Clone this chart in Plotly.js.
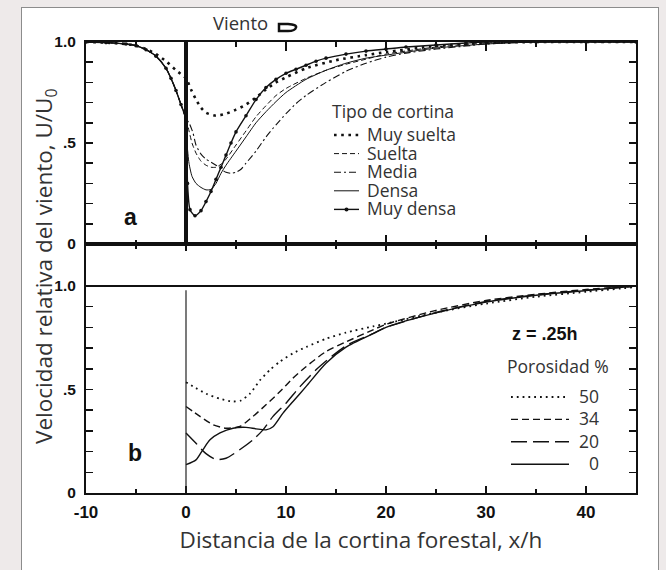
<!DOCTYPE html>
<html><head><meta charset="utf-8">
<script src="https://cdn.plot.ly/plotly-3.0.1.min.js"></script>
<style>
html,body{margin:0;padding:0;background:#eeeaea;width:666px;height:570px;overflow:hidden;}
#panel{position:absolute;left:21px;top:7px;width:638px;height:590px;background:#fff;border:1.5px solid #8c8c8c;box-sizing:border-box;}
#chart{position:absolute;left:0;top:0;width:666px;height:570px;}
</style></head><body>
<div id="panel"></div><div id="chart"></div>
<script>
// ---------- Panel a: Tipo de cortina ----------
const typeNames = ['Muy suelta', 'Suelta', 'Media', 'Densa', 'Muy densa'];

const muySueltaX = [-10,-8,-6,-5,-4,-3,-2,-1,0,0.5,1,1.5,2,3,4,5,6,7,8,9,10,12,15,18,20,25,30,35,40,45];
const muySueltaY = [1.0,0.997,0.99,0.982,0.965,0.94,0.905,0.86,0.82,0.765,0.715,0.675,0.65,0.635,0.645,0.665,0.69,0.725,0.765,0.8,0.825,0.87,0.91,0.935,0.95,0.98,0.995,1.0,1.0,1.0];

const sueltaX = [-10,-8,-6,-5,-4,-3,-2,-1.5,-1,-0.5,0,0.3,0.6,1,1.5,2,2.5,3,3.5,4,5,6,7,8,9,10,12,14,16,18,20,25,30,35,40,45];
const sueltaY = [1.0,0.997,0.99,0.982,0.962,0.93,0.87,0.82,0.76,0.69,0.62,0.56,0.5,0.45,0.41,0.39,0.38,0.38,0.395,0.42,0.49,0.56,0.63,0.685,0.735,0.77,0.82,0.86,0.89,0.915,0.94,0.975,0.995,1.0,1.0,1.0];

const mediaX = [-10,-8,-6,-5,-4,-3,-2,-1.5,-1,-0.5,0,0.3,0.7,1,1.5,2,2.5,3,3.5,4,4.5,5,5.5,6,7,8,9,10,11,12,14,16,18,20,22,25,28,30,35,40,45];
const mediaY = [1.0,0.997,0.99,0.982,0.962,0.93,0.87,0.82,0.76,0.69,0.62,0.6,0.55,0.49,0.445,0.42,0.405,0.39,0.37,0.355,0.35,0.355,0.37,0.4,0.46,0.53,0.59,0.645,0.695,0.735,0.8,0.855,0.895,0.925,0.945,0.965,0.98,0.99,1.0,1.0,1.0];

const densaX = [-10,-8,-6,-5,-4,-3,-2,-1.5,-1,-0.5,0,0.1,0.3,0.6,1,1.5,2,2.5,3,3.5,4,5,6,7,8,9,10,12,14,16,18,20,25,30,35,40,45];
const densaY = [1.0,0.997,0.99,0.982,0.962,0.93,0.87,0.82,0.76,0.69,0.62,0.5,0.4,0.335,0.3,0.28,0.268,0.27,0.3,0.35,0.39,0.46,0.53,0.6,0.655,0.705,0.75,0.815,0.86,0.895,0.92,0.935,0.97,0.99,1.0,1.0,1.0];

const muyDensaX = [-10,-8,-6,-5,-4,-3,-2,-1.5,-1,-0.5,0,0.15,0.4,0.9,1.5,2,2.5,3,3.5,4,4.5,5,6,7,8,9,10,11,12,13,14,16,18,20,22,25,28,30,35,40,45];
const muyDensaY = [1.0,0.997,0.99,0.982,0.962,0.93,0.87,0.82,0.76,0.69,0.62,0.3,0.17,0.14,0.165,0.21,0.26,0.32,0.38,0.44,0.5,0.555,0.635,0.715,0.775,0.815,0.845,0.865,0.885,0.905,0.92,0.94,0.955,0.965,0.975,0.985,0.995,1.0,1.0,1.0,1.0];

// ---------- Panel b: Porosidad % (z = .25h) ----------
const porosityNames = ['50', '34', '20', '0'];

const p50X = [0,0.7,2,3.4,4.7,5.5,6.4,7.4,8.4,9.4,10.7,12,14,16,18.7,20,25,30,35,40,45];
const p50Y = [0.535,0.515,0.48,0.455,0.442,0.447,0.48,0.545,0.595,0.635,0.675,0.705,0.745,0.775,0.805,0.818,0.872,0.915,0.948,0.972,0.995];

const p34X = [0,1.4,2.7,4,5.4,6.7,8,9.4,10.7,12,14,16,18.7,20,25,30,35,40,45];
const p34Y = [0.418,0.37,0.33,0.313,0.322,0.37,0.426,0.49,0.555,0.61,0.683,0.73,0.788,0.815,0.882,0.93,0.96,0.983,1.0];

const p20X = [0,1,2,3,4,5.4,6.7,7.7,8.7,10,11.4,13,14.7,16.3,18.7,20,25,30,35,40,45];
const p20Y = [0.29,0.24,0.19,0.162,0.168,0.21,0.257,0.305,0.37,0.434,0.514,0.595,0.665,0.72,0.77,0.8,0.872,0.925,0.957,0.98,1.0];

const p0X = [0,1,1.7,2.4,3.4,4.7,6,7,8,8.7,9.7,10.7,12,14,16,18.7,20,25,30,35,40,45];
const p0Y = [0.137,0.16,0.21,0.257,0.29,0.313,0.317,0.31,0.305,0.32,0.386,0.442,0.514,0.627,0.705,0.77,0.8,0.87,0.922,0.955,0.978,1.0];

// ---------- Ticks ----------
const xTickVals = [-10, 0, 10, 20, 30, 40];
const xTickText = ['-10', '0', '10', '20', '30', '40'];
const xMinorVals = [-5, 5, 15, 25, 35, 45];
const yTickVals = [0, 0.5, 1.0];
const yTickText = ['0', '.5', '1.0'];
const yMinorVals = [0.1, 0.2, 0.3, 0.4, 0.6, 0.7, 0.8, 0.9];

// ---------- Styles ----------
const INK = '#111';
const TXT = '#333';
const SANS = "'Open Sans', 'Noto Sans', sans-serif";
const BOLD = "'Liberation Sans', Arial, sans-serif";

const typeStyles = [
  {line: {color: INK, width: 2.6, dash: '2.6px,4.6px'}, mode: 'lines'},
  {line: {color: INK, width: 1, dash: '5px,3px'}, mode: 'lines'},
  {line: {color: INK, width: 1.1, dash: '7px,3px,2px,3px'}, mode: 'lines'},
  {line: {color: INK, width: 1}, mode: 'lines'},
  {line: {color: INK, width: 1.4}, mode: 'lines+markers', marker: {size: 3.6, color: INK}}
];
const porStyles = [
  {line: {color: INK, width: 1.8, dash: '1.8px,4px'}},
  {line: {color: INK, width: 1.4, dash: '7px,4px'}},
  {line: {color: INK, width: 1.4, dash: '16px,6px'}},
  {line: {color: INK, width: 1.4}}
];

const typeData = [[muySueltaX, muySueltaY], [sueltaX, sueltaY], [mediaX, mediaY], [densaX, densaY], [muyDensaX, muyDensaY]];
const porData = [[p50X, p50Y], [p34X, p34Y], [p20X, p20Y], [p0X, p0Y]];

const traces = [];
typeData.forEach((d, i) => {
  const tr = {
    type: 'scatter', mode: typeStyles[i].mode, x: d[0], y: d[1], name: typeNames[i],
    xaxis: 'x', yaxis: 'y', showlegend: false, hoverinfo: 'skip',
    line: Object.assign({shape: 'spline', smoothing: 0.6}, typeStyles[i].line)
  };
  if (typeStyles[i].marker) tr.marker = Object.assign({}, typeStyles[i].marker);
  traces.push(tr);
});
porData.forEach((d, i) => {
  traces.push({
    type: 'scatter', mode: 'lines', x: d[0], y: d[1], name: porosityNames[i] + ' %',
    xaxis: 'x2', yaxis: 'y2', showlegend: false, hoverinfo: 'skip',
    line: Object.assign({shape: 'spline', smoothing: 0.7}, porStyles[i].line)
  });
});

// ---------- Geometry helpers (pixels -> paper) ----------
const L = 86, T = 42, W = 550, H = 451;
const px = v => (v - L) / W;
const py = v => (T + H - v) / H;
const split = (T + H - 244) / H;
const bTop = (T + H - 244) / (T + H - 286);

const xCommon = {
  range: [-10, 45], showline: true, linecolor: INK, linewidth: 2, mirror: 'ticks',
  ticks: 'inside', ticklen: 8, tickwidth: 1.5, tickcolor: INK,
  tickmode: 'array', tickvals: xTickVals, ticktext: xTickText,
  minor: {tickmode: 'array', tickvals: xMinorVals, ticks: 'inside', ticklen: 4.5, tickwidth: 1.3, tickcolor: INK, showgrid: false},
  showgrid: false, zeroline: false, fixedrange: true
};
const yCommon = {
  showline: true, linecolor: INK, linewidth: 2, mirror: 'ticks',
  ticks: 'inside', ticklen: 7, tickwidth: 1.5, tickcolor: INK,
  tickmode: 'array', tickvals: yTickVals, ticktext: yTickText,
  minor: {tickmode: 'array', tickvals: yMinorVals, ticks: 'inside', ticklen: 7, tickwidth: 1.5, tickcolor: INK, showgrid: false},
  showgrid: false, zeroline: false, fixedrange: true,
  tickfont: {family: BOLD, size: 15.5, color: INK, weight: 'bold'}, ticklabelstandoff: 5
};

function note(text, x, y, xanchor, font, extra) {
  return Object.assign({text: text, xref: 'paper', yref: 'paper', x: px(x), y: py(y),
    xanchor: xanchor, yanchor: 'middle', showarrow: false, borderpad: 0, font: font}, extra || {});
}
const annotations = [
  note('Viento', 212, 23, 'left', {family: SANS, size: 18.5, color: TXT}),
  note('a', 130, 217, 'center', {family: BOLD, size: 23, color: INK, weight: 'bold'}),
  note('b', 135, 453, 'center', {family: BOLD, size: 23, color: INK, weight: 'bold'}),
  note('Velocidad relativa del viento, U/U<sub>0</sub>', 45, 267, 'center', {family: SANS, size: 22.5, color: TXT}, {textangle: -90}),
  note('Tipo de cortina', 331, 111, 'left', {family: SANS, size: 17.5, color: TXT}),
  note('z = .25h', 511, 334, 'left', {family: BOLD, size: 18, color: INK, weight: 'bold'}),
  note('Porosidad %', 506, 366, 'left', {family: SANS, size: 17.5, color: TXT})
];
const shapes = [
  {type: 'line', xref: 'x', yref: 'y', x0: 0, x1: 0, y0: 0, y1: 1, line: {color: INK, width: 4}},
  {type: 'line', xref: 'x2', yref: 'y2', x0: 0, x1: 0, y0: 0, y1: 0.98, line: {color: '#222', width: 1.2}},
  {type: 'line', xref: 'paper', yref: 'y2', x0: 0, x1: 1, y0: 1, y1: 1, line: {color: INK, width: 2}},
  {type: 'path', xref: 'paper', yref: 'paper',
   path: `M${px(279)},${py(24)} L${px(288)},${py(24)} Q${px(297)},${py(24.5)} ${px(296)},${py(27.5)} Q${px(295)},${py(31)} ${px(288)},${py(31)} L${px(279)},${py(31)} Z`,
   line: {color: INK, width: 2.5}, fillcolor: '#fff'}
];

typeNames.forEach((n, i) => {
  const yy = 134 + 18.6 * i;
  annotations.push(note(n, 366, yy, 'left', {family: SANS, size: 17.5, color: TXT}));
  shapes.push({type: 'line', xref: 'paper', yref: 'paper', x0: px(334), x1: px(359), y0: py(yy + 1), y1: py(yy + 1), line: Object.assign({}, typeStyles[i].line)});
  if (typeStyles[i].marker) {
    shapes.push({type: 'circle', xref: 'paper', yref: 'paper', x0: px(344.5), x1: px(348.5), y0: py(yy + 3), y1: py(yy - 1), fillcolor: INK, line: {width: 0}});
  }
});
porosityNames.forEach((n, i) => {
  const yy = 396 + 22.4 * i;
  annotations.push(note(n, 600, yy, 'right', {family: SANS, size: 17.5, color: TXT}));
  shapes.push({type: 'line', xref: 'paper', yref: 'paper', x0: px(511), x1: px(569), y0: py(yy + 1), y1: py(yy + 1), line: Object.assign({}, porStyles[i].line)});
});

const layout = {
  width: 666, height: 570,
  margin: {l: L, r: 666 - L - W, t: T, b: 570 - T - H},
  paper_bgcolor: 'rgba(0,0,0,0)', plot_bgcolor: 'rgba(0,0,0,0)',
  showlegend: false,
  xaxis: Object.assign({}, xCommon, {domain: [0, 1], anchor: 'y', showticklabels: false, ticklen: 9}),
  xaxis2: Object.assign({}, xCommon, {domain: [0, 1], anchor: 'y2', ticklen: 7,
    tickfont: {family: BOLD, size: 17, color: INK, weight: 'bold'}, ticklabelstandoff: 3,
    title: {text: 'Distancia de la cortina forestal, x/h', font: {family: SANS, size: 22.5, color: TXT}, standoff: 11}}),
  yaxis: Object.assign({}, yCommon, {domain: [split, 1], anchor: 'x', range: [0, 1]}),
  yaxis2: Object.assign({}, yCommon, {domain: [0, split], anchor: 'x2', range: [0, bTop]}),
  annotations: annotations,
  shapes: shapes
};

Plotly.newPlot('chart', traces, layout, {staticPlot: true, displayModeBar: false});
</script>
</body></html>
